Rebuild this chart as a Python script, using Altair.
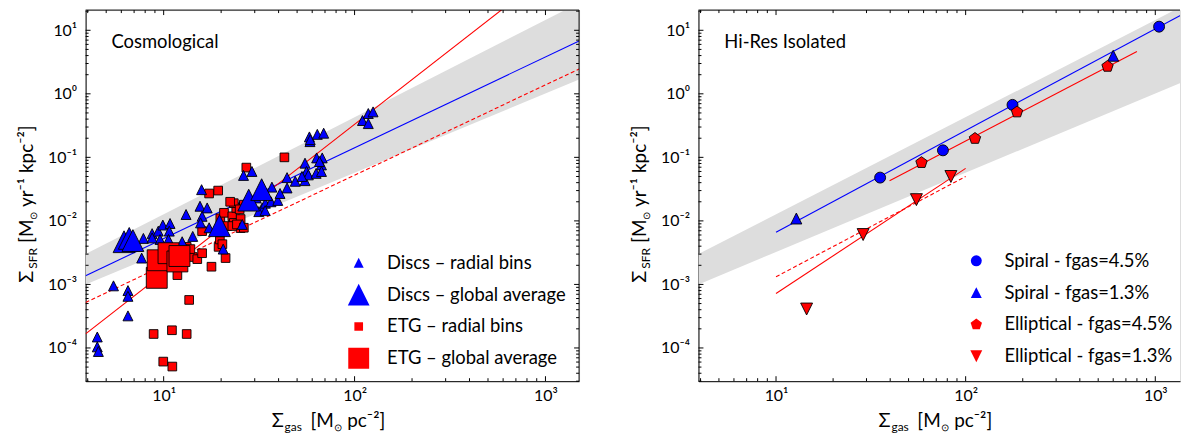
import altair as alt
import pandas as pd

FONT = "Lato"

# ---------------- axes / ticks ----------------
XMAJ = [10, 100, 1000]
XLAB = ["10¹", "10²", "10³"]
YMAJ = [1e-4, 1e-3, 1e-2, 1e-1, 1, 10]
YLAB = ["10⁻⁴", "10⁻³", "10⁻²", "10⁻¹", "10⁰", "10¹"]
MANT = [2, 3, 4, 5, 6, 7, 8, 9]
XDEC = [1, 10, 100]
YDEC = [1e-5, 1e-4, 1e-3, 1e-2, 1e-1, 1, 10]

XDOM_L = [3.9, 1500]
XDOM_R = [3.9, 1350]
YDOM = [3e-5, 20.8]

# ---------------- Kennicutt band ----------------
BAND_X = [3.9, 1500]
BAND_LO = [1.0e-3, 1.68]
BAND_HI = [3.0e-3, 27.0]

# ---------------- left panel: Cosmological ----------------
DISC_BIN_X = [4.49, 4.49, 4.55, 5.46, 6.5, 6.5, 6.5, 7.67, 7.83, 8.7, 9.37, 9.9,
              10.8, 10.7, 10.6, 9.57, 8.7, 12.5, 13.1, 14.2, 15.8, 15.5, 16.9, 15.9,
              15.6, 17.3, 20.5, 26.2, 29.0, 25.8, 32.8, 34.1, 36.5, 39.6, 36.9, 40.7,
              44.3, 44.3, 48.9, 55.0, 56.0, 55.0, 57.3, 58.4, 58.0, 58.6, 63.8, 68.9,
              63.3, 67.7, 67.1, 62.9, 67.1, 110, 118, 125, 118, 30.5, 31.5, 34.0,
              53.0, 65.5]
DISC_BIN_Y = [1.49e-4, 1.04e-4, 8.8e-5, 9.5e-4, 8.0e-4, 6.5e-4, 3.2e-4, 2.6e-3, 5.3e-3,
              6.3e-3, 6.9e-3, 8.6e-3, 9.1e-3, 6.9e-3, 5.1e-3, 5.1e-3, 5.4e-3, 4.7e-3,
              0.0126, 5.7e-3, 0.031, 0.017, 0.016, 0.0118, 9.3e-3, 7.8e-3, 3.6e-3,
              0.052, 0.060, 8.8e-3, 0.016, 0.019, 0.020, 0.021, 0.034, 0.027, 0.033,
              0.048, 0.042, 0.081, 0.060, 0.043, 0.053, 0.177, 0.21, 0.19, 0.23, 0.24,
              0.098, 0.098, 0.076, 0.056, 0.060, 0.38, 0.49, 0.52, 0.34, 0.023, 0.014,
              0.0145, 0.050, 0.086]
DISC_AVG_X = [6.2, 6.6, 6.9, 19.6, 27.9, 32.6]
DISC_AVG_Y = [4.7e-3, 5.3e-3, 4.9e-3, 8.4e-3, 0.0212, 0.031]
ETG_BIN_X = [8.86, 11.05, 13.2, 9.95, 11.1, 13.6, 11.8, 14.2, 15.0, 15.9, 17.8, 21.1,
             19.4, 19.7, 20.3, 15.9, 13.2, 19.8, 19.8, 20.7, 21.5, 22.9, 23.3, 25.3,
             25.3, 24.0, 26.3, 23.3, 22.9, 24.2, 26.3, 25.0, 17.3, 19.3, 27.1, 42.9,
             13.8, 22.3]
ETG_BIN_Y = [1.66e-4, 1.9e-4, 1.66e-4, 6.1e-5, 5.1e-5, 5.7e-4, 1.4e-3, 2.7e-3, 2.5e-3,
             3.1e-3, 1.9e-3, 2.6e-3, 3.9e-3, 5.1e-3, 4.3e-3, 6.9e-3, 3.9e-3, 6.6e-3,
             0.011, 0.0134, 8.3e-3, 0.0118, 9.3e-3, 0.0107, 7.7e-3, 0.016, 0.018, 0.019,
             8.3e-3, 8.8e-3, 7.8e-3, 0.0152, 0.027, 0.030, 0.069, 0.10, 3.6e-3, 0.020]
ETG_AVG_X = [9.2, 9.3, 10.6, 11.8, 12.1]
ETG_AVG_Y = [1.27e-3, 2.4e-3, 3.1e-3, 2.3e-3, 2.8e-3]

L_SERIES = ["Discs – radial bins", "Discs – global average",
            "ETG – radial bins", "ETG – global average"]

# fit lines (endpoints)
L_BLUE_X, L_BLUE_Y = [3.9, 1500], [1.37e-3, 6.8]
L_RED_X, L_RED_Y = [3.9, 600], [1.67e-4, 21.9]
L_REDD_X, L_REDD_Y = [3.9, 1500], [5.2e-4, 2.46]

# ---------------- right panel: Hi-Res Isolated ----------------
SP45_X, SP45_Y = [35.4, 75.9, 176.6, 1047], [0.048, 0.129, 0.67, 11.4]
SP13_X, SP13_Y = [12.8, 600], [0.0109, 3.97]
EL45_X, EL45_Y = [58.5, 112, 186.6, 560], [0.0826, 0.198, 0.517, 2.7]
EL13_X, EL13_Y = [14.5, 28.8, 55, 83.6], [4.1e-4, 6.1e-3, 0.0216, 0.05]

R_SERIES = ["Spiral - fgas=4.5%", "Spiral - fgas=1.3%",
            "Elliptical - fgas=4.5%", "Elliptical - fgas=1.3%"]

R_BLUE_X, R_BLUE_Y = [10, 1500], [6.65e-3, 20.2]
R_RED1_X, R_RED1_Y = [39.7, 800], [0.043, 4.64]
R_RED2_X, R_RED2_Y = [10, 100], [7.2e-4, 0.067]
R_REDD_X, R_REDD_Y = [10, 100], [1.32e-3, 0.05]

TRI_UP = "M0,-1L1,1L-1,1Z"
TRI_DN = "M-1,-1L1,-1L0,1Z"
PENT = "M0,-1L0.951,-0.309L0.588,0.809L-0.588,0.809L-0.951,-0.309Z"

BLUE = "#0000ff"
RED = "#ff0000"

H = 373


def minor(decs, mant, dom):
    return [d * m for d in decs for m in mant if dom[0] <= d * m <= dom[1]]


def xaxis():
    expr = "[" + ",".join("'%s'" % s for s in XLAB) + "][round(log(datum.value)/LN10)-1]"
    return alt.Axis(values=XMAJ, labelExpr=expr, ticks=False, tickSize=0, grid=False,
                    domain=True, domainColor="black", domainWidth=1, title=None,
                    labelFont=FONT, labelFontSize=16, labelColor="black",
                    labelPadding=6, labelFlush=False, labelOverlap=False)


def yaxis():
    expr = "[" + ",".join("'%s'" % s for s in YLAB) + "][round(log(datum.value)/LN10)+4]"
    return alt.Axis(values=YMAJ, labelExpr=expr, ticks=False, tickSize=0, grid=False,
                    domain=True, domainColor="black", domainWidth=1, title=None,
                    labelFont=FONT, labelFontSize=16, labelColor="black",
                    labelPadding=9, labelFlush=False, labelOverlap=False)


def txt_layer(txt, x, y, fs, angle=None):
    props = dict(align="left", baseline="alphabetic", font=FONT, fontSize=fs,
                 color="black")
    if angle is not None:
        props["angle"] = angle
    return alt.Chart(pd.DataFrame({"t": [txt]})).mark_text(**props).encode(
        x=alt.value(x), y=alt.value(y), text="t:N")


def panel(W, xdom, groups, series, colors, shapes, sizes, lines, label,
          leg_x, leg_y, leg_off, right_border):
    xs = alt.Scale(type="log", domain=xdom, nice=False, zero=False)
    ys = alt.Scale(type="log", domain=YDOM, nice=False, zero=False)
    AX, AY = xaxis(), yaxis()

    def X(f):
        return alt.X(f, scale=xs, axis=AX)

    def Y(f):
        return alt.Y(f, scale=ys, axis=AY)

    layers = []
    band = pd.DataFrame({"x": BAND_X, "lo": BAND_LO, "hi": BAND_HI})
    layers.append(alt.Chart(band).mark_area(color="#dddddd", clip=True).encode(
        x=X("x:Q"), y=Y("lo:Q"), y2="hi:Q"))

    for lx, ly, col, dash in lines:
        d = pd.DataFrame({"x": lx, "y": ly})
        m = dict(color=col, strokeWidth=1.1, clip=True)
        if dash:
            m["strokeDash"] = [4, 2.5]
        layers.append(alt.Chart(d).mark_line(**m).encode(x=X("x:Q"), y=Y("y:Q")))

    rows = []
    for name, gx, gy in groups:
        for a, b in zip(gx, gy):
            rows.append({"x": a, "y": b, "s": name})
    pts = pd.DataFrame(rows)
    leg = alt.Legend(orient="none", legendX=leg_x, legendY=leg_y, title=None,
                     labelFont=FONT, labelFontSize=18.5, labelColor="black", labelLimit=0,
                     clipHeight=24, rowPadding=8, labelOffset=leg_off, padding=0,
                     symbolStrokeColor="black", symbolStrokeWidth=1, symbolOpacity=1)
    layers.append(alt.Chart(pts).mark_point(filled=True, opacity=1, stroke="black",
                                            strokeWidth=0.9).encode(
        x=X("x:Q"), y=Y("y:Q"),
        color=alt.Color("s:N", scale=alt.Scale(type="ordinal", domain=series,
                                               range=colors), legend=leg),
        shape=alt.Shape("s:N", scale=alt.Scale(type="ordinal", domain=series,
                                               range=shapes), legend=leg),
        size=alt.Size("s:N", scale=alt.Scale(type="ordinal", domain=series,
                                             range=sizes), legend=leg),
    ))

    # inward ticks
    xmaj = [v for v in XMAJ if xdom[0] <= v <= xdom[1]]
    xmin = minor(XDEC, MANT, xdom)
    ymin = minor(YDEC, MANT, YDOM)
    for vals, ln in ((xmaj, 5), (xmin, 3)):
        d = pd.DataFrame({"v": vals})
        layers.append(alt.Chart(d).mark_rule(color="black", strokeWidth=1).encode(
            x=X("v:Q"), y=alt.value(H), y2=alt.value(H - ln)))
        layers.append(alt.Chart(d).mark_rule(color="black", strokeWidth=1).encode(
            x=X("v:Q"), y=alt.value(0), y2=alt.value(ln)))
    for vals, ln in ((YMAJ, 5), (ymin, 3)):
        d = pd.DataFrame({"v": vals})
        layers.append(alt.Chart(d).mark_rule(color="black", strokeWidth=1).encode(
            y=Y("v:Q"), x=alt.value(0), x2=alt.value(ln)))
        if right_border:
            layers.append(alt.Chart(d).mark_rule(color="black", strokeWidth=1).encode(
                y=Y("v:Q"), x=alt.value(W), x2=alt.value(W - ln)))

    one = pd.DataFrame({"k": [0]})
    layers.append(alt.Chart(one).mark_rule(color="black", strokeWidth=1).encode(
        x=alt.value(0), x2=alt.value(W), y=alt.value(0)))
    if right_border:
        layers.append(alt.Chart(one).mark_rule(color="black", strokeWidth=1).encode(
            x=alt.value(W), y=alt.value(0), y2=alt.value(H)))

    # panel label
    layers.append(alt.Chart(pd.DataFrame({"t": [label]})).mark_text(
        align="left", baseline="middle", font=FONT, fontSize=18.5, color="black").encode(
        x=alt.value(26), y=alt.value(32), text="t:N"))

    # x-axis title pieces:  Σ_gas [M_⊙ pc⁻²]
    cx = W / 2
    layers.append(txt_layer("Σ", cx - 61, 419.5, 20))
    layers.append(txt_layer("gas", cx - 48, 423.5, 12))
    layers.append(txt_layer("[M", cx - 22, 419.5, 19))
    layers.append(txt_layer("⊙", cx + 2, 423, 10))
    layers.append(txt_layer("pc⁻²]", cx + 15, 419.5, 19))

    # y-axis title pieces (rotated):  Σ_SFR [M_⊙ yr⁻¹ kpc⁻²]
    layers.append(txt_layer("Σ", -53, 274, 20, 270))
    layers.append(txt_layer("SFR", -49, 260, 12, 270))
    layers.append(txt_layer("[M", -53, 234, 19, 270))
    layers.append(txt_layer("⊙", -49, 210.5, 10, 270))
    layers.append(txt_layer("yr⁻¹ kpc⁻²]", -53, 198, 19, 270))

    return alt.layer(*layers).properties(width=W, height=H)


left = panel(
    496, XDOM_L,
    [(L_SERIES[2], ETG_BIN_X, ETG_BIN_Y), (L_SERIES[0], DISC_BIN_X, DISC_BIN_Y),
     (L_SERIES[3], ETG_AVG_X, ETG_AVG_Y), (L_SERIES[1], DISC_AVG_X, DISC_AVG_Y)],
    L_SERIES, [BLUE, BLUE, RED, RED], [TRI_UP, TRI_UP, "square", "square"],
    [100, 480, 76, 441],
    [(L_BLUE_X, L_BLUE_Y, BLUE, False), (L_RED_X, L_RED_Y, RED, False),
     (L_REDD_X, L_REDD_Y, RED, True)],
    "Cosmological", 263, 242, 17, True)

right = panel(
    484, XDOM_R,
    [(R_SERIES[0], SP45_X, SP45_Y), (R_SERIES[1], SP13_X, SP13_Y),
     (R_SERIES[2], EL45_X, EL45_Y), (R_SERIES[3], EL13_X, EL13_Y)],
    R_SERIES, [BLUE, BLUE, RED, RED], ["circle", TRI_UP, PENT, TRI_DN],
    [121, 121, 144, 144],
    [(R_BLUE_X, R_BLUE_Y, BLUE, False), (R_RED1_X, R_RED1_Y, RED, False),
     (R_RED2_X, R_RED2_Y, RED, False), (R_REDD_X, R_REDD_Y, RED, True)],
    "Hi-Res Isolated", 270, 240, 19, False)

chart = alt.hconcat(left, right, spacing=49).resolve_scale(
    x="independent", y="independent", color="independent",
    shape="independent", size="independent"
).properties(
    padding={"left": 8, "top": 0, "right": 0, "bottom": 0}
).configure_view(strokeWidth=0).configure(background="white")

chart.save("out.html", embed_options={"renderer": "svg", "actions": False})
